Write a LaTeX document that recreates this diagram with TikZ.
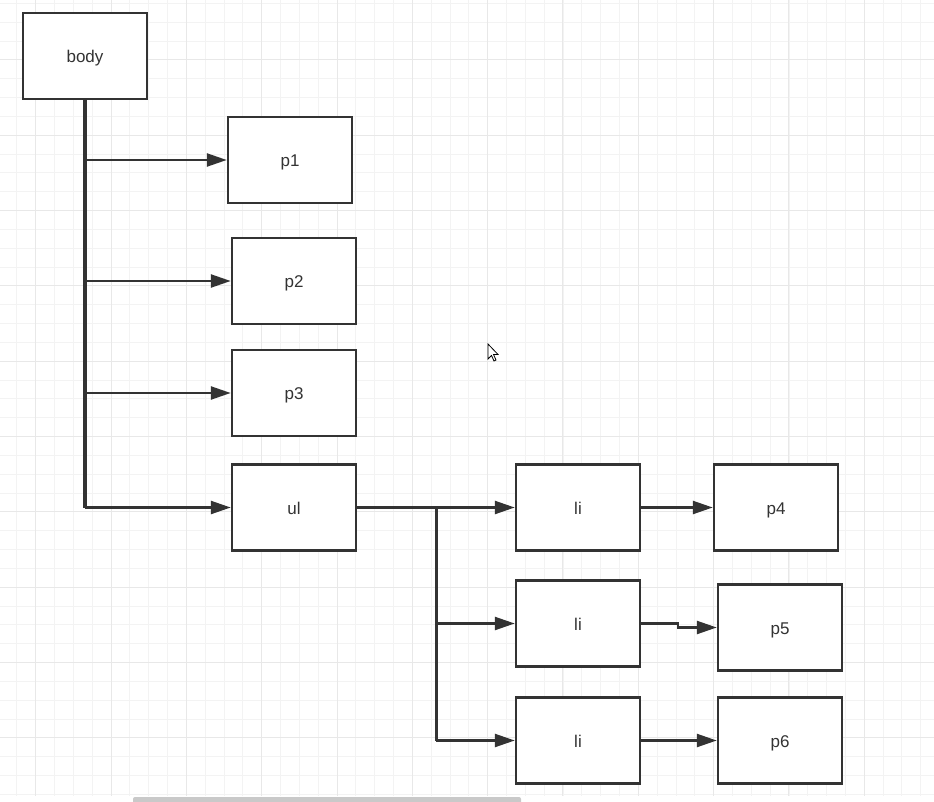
\documentclass[tikz,border=0pt]{standalone}
\usepackage{fontspec}
\setmainfont{Liberation Sans}
\usetikzlibrary{arrows.meta}
\definecolor{ink}{HTML}{333333}
\definecolor{gridminor}{HTML}{F3F3F3}
\definecolor{gridmajor}{HTML}{E8E8E8}
\definecolor{scroll}{HTML}{C9C9C9}
\begin{document}
\begin{tikzpicture}[x=1pt,y=-1pt,
  box/.style={draw=ink, line width=2.5pt, fill=white, minimum width=124pt, minimum height=86pt,
    font=\fontsize{17}{18}\selectfont, text=ink, inner sep=0pt, text height=15pt, text depth=2pt},
  conn/.style={draw=ink, line width=2.5pt, -{Triangle[length=20pt,width=13pt]}},
  trunk/.style={draw=ink, line width=3.5pt}]
\useasboundingbox (0,0) rectangle (934,802);
\fill[white] (0,0) rectangle (934,802);
% grid
\foreach \i in {0,...,49} {
  \pgfmathsetmacro{\gx}{16.97+18.83*\i}
  \ifdim\gx pt<934pt \draw[gridminor, line width=1pt] (\gx,0) -- (\gx,796); \fi
}
\foreach \i in {0,...,42} {
  \pgfmathsetmacro{\gy}{3.5+18.83*\i}
  \ifdim\gy pt<796pt \draw[gridminor, line width=1pt] (0,\gy) -- (934,\gy); \fi
}
\foreach \i in {0,...,12} {
  \pgfmathsetmacro{\gx}{35.8+75.3*\i}
  \ifdim\gx pt<934pt \draw[gridmajor, line width=1pt] (\gx,0) -- (\gx,796); \fi
}
\foreach \i in {0,...,10} {
  \pgfmathsetmacro{\gy}{60+75.3*\i}
  \ifdim\gy pt<796pt \draw[gridmajor, line width=1pt] (0,\gy) -- (934,\gy); \fi
}
% scrollbar
\fill[scroll, rounded corners=2pt] (133,797) rectangle (521,804);
% cursor
\draw[black, fill=white, line width=0.8pt, line join=miter]
  (488,344) -- (488,359) -- (491.5,355.5) -- (494,361) -- (496,360) -- (493.5,354.5) -- (498,354.5) -- cycle;

% nodes
\node[box] (body) at (85,56) {body};
\node[box] (p1) at (290,160) {p1};
\node[box] (p2) at (294,281) {p2};
\node[box] (p3) at (294,393) {p3};
\node[box] (ul) at (294,507.5) {ul};
\node[box] (li1) at (578,507.5) {li};
\node[box] (p4) at (776,507.5) {p4};
\node[box] (li2) at (578,623.5) {li};
\node[box] (p5) at (780,627.5) {p5};
\node[box] (li3) at (578,740.5) {li};
\node[box] (p6) at (780,740.5) {p6};

% body trunk
\coordinate (t) at (body.south |- ul.west);
\draw[trunk] (body.south) -- (t);
\draw[conn] (body.south |- p1.west) -- (p1.west);
\draw[conn] (body.south |- p2.west) -- (p2.west);
\draw[conn] (body.south |- p3.west) -- (p3.west);
\draw[conn] (t) -- (ul.west);

% ul fork
\coordinate (f) at (436,507.5);
\draw[trunk] (ul.east) -- (f);
\draw[conn] (f) -- (li1.west);
\draw[draw=ink, line width=3pt] (f) -- (f |- li3.west);
\draw[conn] (f |- li2.west) -- (li2.west);
\draw[conn] (f |- li3.west) -- (li3.west);

% li to p
\draw[conn] (li1.east) -- (p4.west);
\coordinate (k) at (678,623.5);
\draw[conn] (li2.east) -- (k) |- (p5.west);
\draw[conn] (li3.east) -- (p6.west);
\end{tikzpicture}
\end{document}
